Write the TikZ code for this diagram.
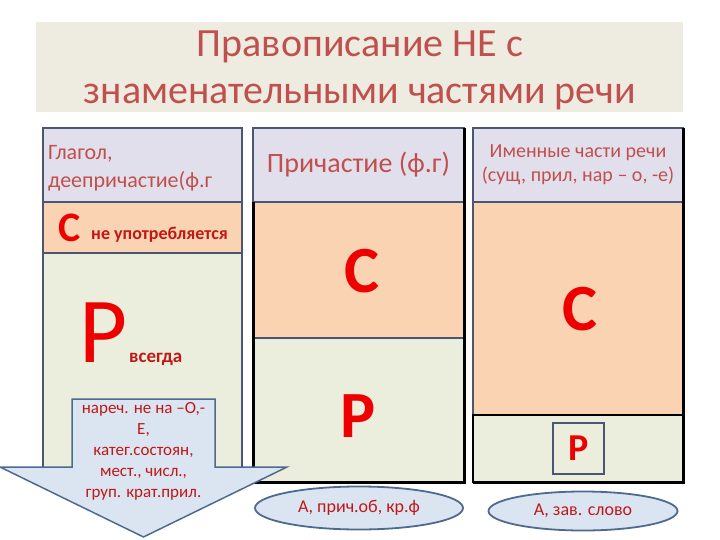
\documentclass[tikz,border=0pt]{standalone}
\usepackage{fontspec}
\setmainfont{Carlito}
\usepackage{xcolor}
\usepackage{tikz}
\usetikzlibrary{positioning, shapes.geometric}

\definecolor{titlebg}{HTML}{EEECE1}
\definecolor{titlered}{HTML}{C0504D}
\definecolor{headfill}{HTML}{E2DFEC}
\definecolor{orangefill}{HTML}{FAD3B2}
\definecolor{greenfill}{HTML}{EBEEDD}
\definecolor{frame}{HTML}{4A5673}
\definecolor{arrowfill}{HTML}{DBE5F1}
\definecolor{arrowline}{HTML}{4F6A8F}
\definecolor{bigred}{HTML}{EE0000}
\definecolor{darkred}{HTML}{C01818}

\begin{document}
\begin{tikzpicture}[x=1pt, y=-1pt,
			box/.style={draw=frame, line width=1.2pt, inner sep=0pt, outer sep=0pt, anchor=north west},
			head/.style={box, fill=headfill, minimum height=74pt},
			upper/.style={box, fill=orangefill},
			lower/.style={box, fill=greenfill},
			heavy/.style={draw=black, line width=3pt},
			headtext/.style={text=titlered, inner sep=0pt},
			big/.style={text=bigred, inner sep=0pt, font=\fontsize{66}{66}\selectfont\bfseries},
			note/.style={text=darkred, inner sep=0pt, font=\fontsize{18}{20}\selectfont\bfseries},
			oval/.style={ellipse, draw=arrowline, line width=1.8pt, fill=arrowfill, inner sep=0pt,
				text=darkred, font=\fontsize{18}{20}\selectfont}]
			
			\useasboundingbox (0,0) rectangle (720,540);
			
			% title
			\node[fill=titlebg, anchor=north west, inner sep=0pt, minimum width=647pt, minimum height=90pt] (band) at (36,22) {};
			\node[headtext, align=center, font=\fontsize{40}{47}\selectfont] (title) at (360,70) {Правописание НЕ с\\знаменательными частями речи};
			
			% columns
			\node[head, minimum width=199pt] (h1) at (43,128) {};
			\node[upper, minimum width=199pt, minimum height=51pt, below=0pt of h1] (u1) {};
			\node[lower, minimum width=199pt, minimum height=229pt, below=0pt of u1] (l1) {};
			
			\node[head, minimum width=211pt] (h2) at (253,128) {};
			\node[upper, minimum width=211pt, minimum height=136pt, below=0pt of h2] (u2) {};
			\node[lower, minimum width=211pt, minimum height=144pt, below=0pt of u2] (l2) {};
			
			\node[head, minimum width=210pt] (h3) at (473,128) {};
			\node[upper, minimum width=210pt, minimum height=213pt, below=0pt of h3] (u3) {};
			\node[lower, draw=black, minimum width=210pt, minimum height=67pt, below=0pt of u3] (l3) {};
			
			\draw[heavy] (u2.north west) -- (l2.south west) -- (l2.south east) -- (h2.north east);
			\draw[heavy] (l3.south west) -- (l3.south east) -- (h3.north east);
			
			% headers
			\node[headtext, anchor=west, align=left, font=\fontsize{22}{28}\selectfont] (g1) at (48,168) {Глагол,\\деепричастие(ф.г};
			\node[headtext, font=\fontsize{28}{30}\selectfont] (g2) at (h2.center) {Причастие (ф.г)};
			\node[headtext, align=center, font=\fontsize{20}{24}\selectfont] (g3) at (h3.center) {Именные части речи\\(сущ, прил, нар – о, -е)};
			
			% first column
			\node[anchor=base west, text=bigred, inner sep=0pt, font=\fontsize{42}{42}\selectfont\bfseries] (c1) at (58,241) {С};
			\node[note, anchor=base west] (never) at (91,240) {не употребляется};
			\node[anchor=base west, text=bigred, inner sep=0pt, font=\fontsize{93}{93}\selectfont] (p1) at (79,362) {Р};
			\node[note, anchor=base west, font=\fontsize{19}{20}\selectfont\bfseries] (always) at (129,362) {всегда};
			
			% second and third columns
			\node[big] (c2) at (362,271) {С};
			\node[big] (p2) at (358,416) {Р};
			\node[big] (c3) at (580,309) {С};
			\node[draw=frame, line width=1.2pt, fill=greenfill, minimum size=51pt, inner sep=0pt,
				text=bigred, font=\fontsize{38}{38}\selectfont\bfseries] (p3) at (578.5,448.5) {Р};
			
			% arrow
			\draw[draw=arrowline, line width=1.5pt, fill=arrowfill, line join=miter]
				(72,399) -- (215,399) -- (215,467) -- (287,467) -- (143.5,537) -- (0,467) -- (72,467) -- cycle;
			\node[align=center, text=darkred, inner sep=0pt, font=\fontsize{17}{21}\selectfont] (adv) at (143.5,451.5)
				{нареч. не на –О,-\\Е,\\катег.состоян,\\мест., числ.,\\груп. крат.прил.};
			
			% ovals
			\node[oval, minimum width=208pt, minimum height=43pt] (e2) at (359,508) {А, прич.об, кр.ф};
			\node[oval, minimum width=189pt, minimum height=39pt] (e3) at (583,511) {А, зав. слово};
		\end{tikzpicture}
\end{document}
